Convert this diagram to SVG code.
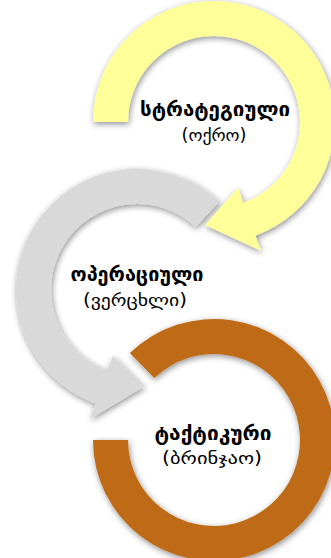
<svg xmlns="http://www.w3.org/2000/svg" width="331" height="558" viewBox="0 0 331 558">
<defs>
<filter id="sh" x="-20%" y="-20%" width="140%" height="140%">
<feDropShadow dx="1" dy="2" stdDeviation="3" flood-color="#000" flood-opacity="0.45"/>
</filter>
<style>
.t1{font-family:"DejaVu Sans",sans-serif;font-weight:bold;font-size:20px;fill:#000;text-anchor:middle}
.t2{font-family:"DejaVu Sans",sans-serif;font-size:17px;fill:#000;text-anchor:middle}
</style>
</defs>
<rect width="331" height="558" fill="#fff"/>
<g id="connectors"></g>
<g id="node-tactical">
<path filter="url(#sh)" fill="#BF6B13" d="M129.9,353 A121,121 0 1 1 93,440 L128,440 A86,86 0 1 0 154.3,378.1 Z"/>
<text class="t1" x="213" y="440" textLength="117" lengthAdjust="spacingAndGlyphs">ტაქტიკური</text>
<text class="t2" x="212" y="464" textLength="100" lengthAdjust="spacingAndGlyphs">(ბრინჯაო)</text>
</g>
<g id="node-operational">
<path filter="url(#sh)" fill="#D9D9D9" d="M219.5,201.5 A121,121 0 1 0 95.6,403.7 L90.2,418.7 L143.8,386.8 L113.1,355.8 L107.6,370.8 A86,86 0 1 1 195.7,227.1 Z"/>
<text class="t1" x="137" y="281" textLength="133" lengthAdjust="spacingAndGlyphs">ოპერაციული</text>
<text class="t2" x="135" y="306" textLength="104" lengthAdjust="spacingAndGlyphs">(ვერცხლი)</text>
</g>
<g id="node-strategic">
<path filter="url(#sh)" fill="#FFFF99" d="M93,122 A121,121 0 1 1 255.4,235.7 L260.9,250.7 L205,225.1 L237.9,187.8 L243.4,202.8 A86,86 0 1 0 128,122 Z"/>
<text class="t1" x="215" y="116" textLength="150" lengthAdjust="spacingAndGlyphs">სტრატეგიული</text>
<text class="t2" x="214" y="141" textLength="65" lengthAdjust="spacingAndGlyphs">(ოქრო)</text>
</g>
</svg>
